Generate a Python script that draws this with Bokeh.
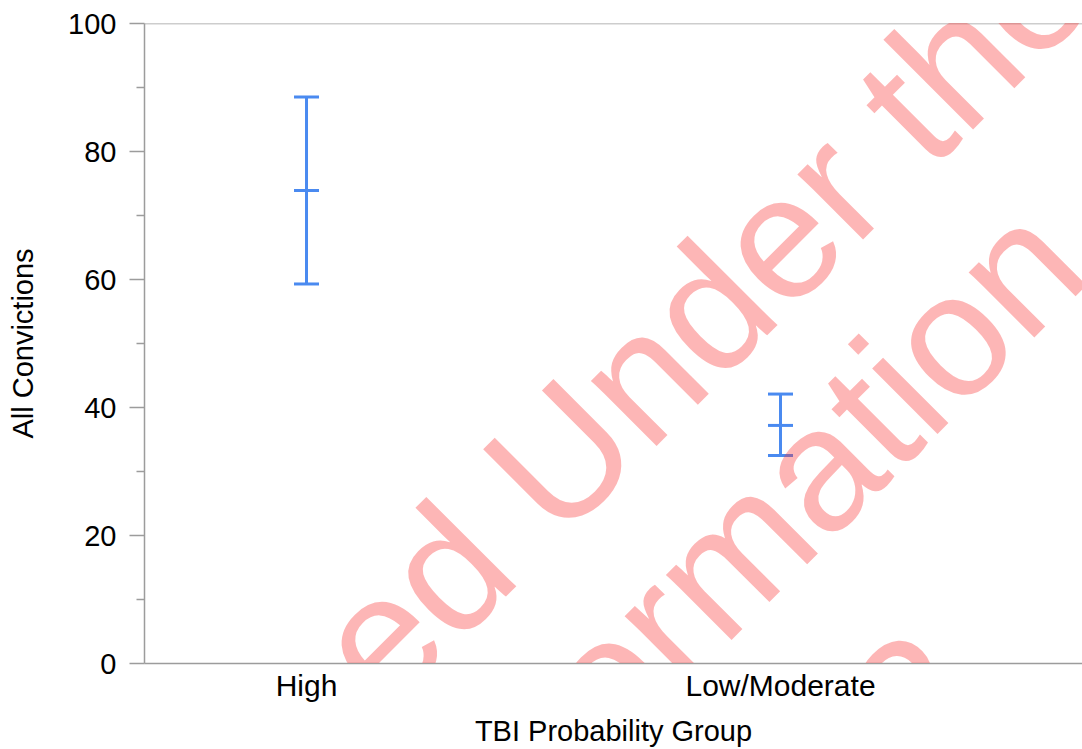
from bokeh.plotting import figure
from bokeh.models import ColumnDataSource, Whisker, TeeHead, FixedTicker, Span, HTMLLabel
from bokeh.embed import file_html
from bokeh.resources import INLINE

# ---- data ----
groups = ["High", "Low/Moderate"]
group_pos = [0, 1]
means = [73.9, 37.2]
lower = [59.3, 32.5]
upper = [88.5, 42.1]

y_major = [0, 20, 40, 60, 80, 100]
y_minor = [10, 30, 50, 70, 90]

x_title = "TBI Probability Group"
y_title = "All Convictions"

watermark = ["Released Under the", "Official Information", "Act 1982"]

# ---- style ----
FONT = "Liberation Sans"
AXIS_GREY = "#9c9c9c"
BLUE = "#4a8af0"

X0, X1 = -0.3418, 1.6371

p = figure(width=1082, height=749, output_backend="svg", toolbar_location=None,
           x_range=(X0, X1), y_range=(0, 100),
           min_border_left=144, min_border_top=23, min_border_right=0,
           background_fill_color="white", border_fill_color="white")
p.outline_line_color = None
p.grid.visible = False
# let the watermark run over the axis area as in the scanned original
p.stylesheets = [":host { overflow: hidden !important; } "
                 ":host * { clip-path: none !important; }"]

src = ColumnDataSource(dict(x=group_pos, mean=means, lower=lower, upper=upper))

w = Whisker(source=src, base="x", upper="upper", lower="lower", dimension="height",
            line_color=BLUE, line_width=3,
            upper_head=TeeHead(size=25, line_color=BLUE, line_width=3),
            lower_head=TeeHead(size=25, line_color=BLUE, line_width=3))
p.add_layout(w)
p.scatter("x", "mean", source=src, marker="dash", size=25, line_color=BLUE, line_width=3)

# top frame line
p.add_layout(Span(location=100, dimension="width", line_color=AXIS_GREY, line_width=1.5))

# y axis
ya = p.yaxis[0]
ya.ticker = FixedTicker(ticks=y_major, minor_ticks=y_minor)
ya.axis_label = y_title
ya.axis_label_text_font = FONT
ya.axis_label_text_font_size = "29px"
ya.axis_label_text_font_style = "normal"
ya.axis_label_text_color = "black"
ya.axis_label_standoff = 26
ya.major_label_text_font = FONT
ya.major_label_text_font_size = "29px"
ya.major_label_text_color = "black"
ya.major_label_standoff = 13
ya.axis_line_color = AXIS_GREY
ya.axis_line_width = 1.5
ya.major_tick_line_color = AXIS_GREY
ya.major_tick_line_width = 1.5
ya.major_tick_out = 15
ya.major_tick_in = 0
ya.minor_tick_line_color = AXIS_GREY
ya.minor_tick_line_width = 1.5
ya.minor_tick_out = 8
ya.minor_tick_in = 0

# x axis
xa = p.xaxis[0]
xa.ticker = FixedTicker(ticks=group_pos, minor_ticks=[])
xa.major_label_overrides = {pos: g for pos, g in zip(group_pos, groups)}
xa.axis_label = x_title
xa.axis_label_text_font = FONT
xa.axis_label_text_font_size = "29px"
xa.axis_label_text_font_style = "normal"
xa.axis_label_text_color = "black"
xa.axis_label_standoff = 10
xa.major_label_text_font = FONT
xa.major_label_text_font_size = "30px"
xa.major_label_text_color = "black"
xa.major_label_standoff = -1
xa.axis_line_color = AXIS_GREY
xa.axis_line_width = 1.5
xa.major_tick_line_color = None
xa.minor_tick_line_color = None

# watermark, placed in canvas pixels (centre of each line's baseline)
wm_pos = [(509, 508), (537, 749), (706, 908)]
for txt, (cx, cy) in zip(watermark, wm_pos):
    p.add_layout(HTMLLabel(x=cx, y=cy, x_units="canvas", y_units="canvas",
                           text=txt, angle=45, angle_units="deg",
                           text_font=FONT, text_font_size="175px",
                           text_color="#f92f2f", text_alpha=0.35,
                           text_align="center", text_baseline="alphabetic"))

open("out.html", "w").write(file_html(p, INLINE))
